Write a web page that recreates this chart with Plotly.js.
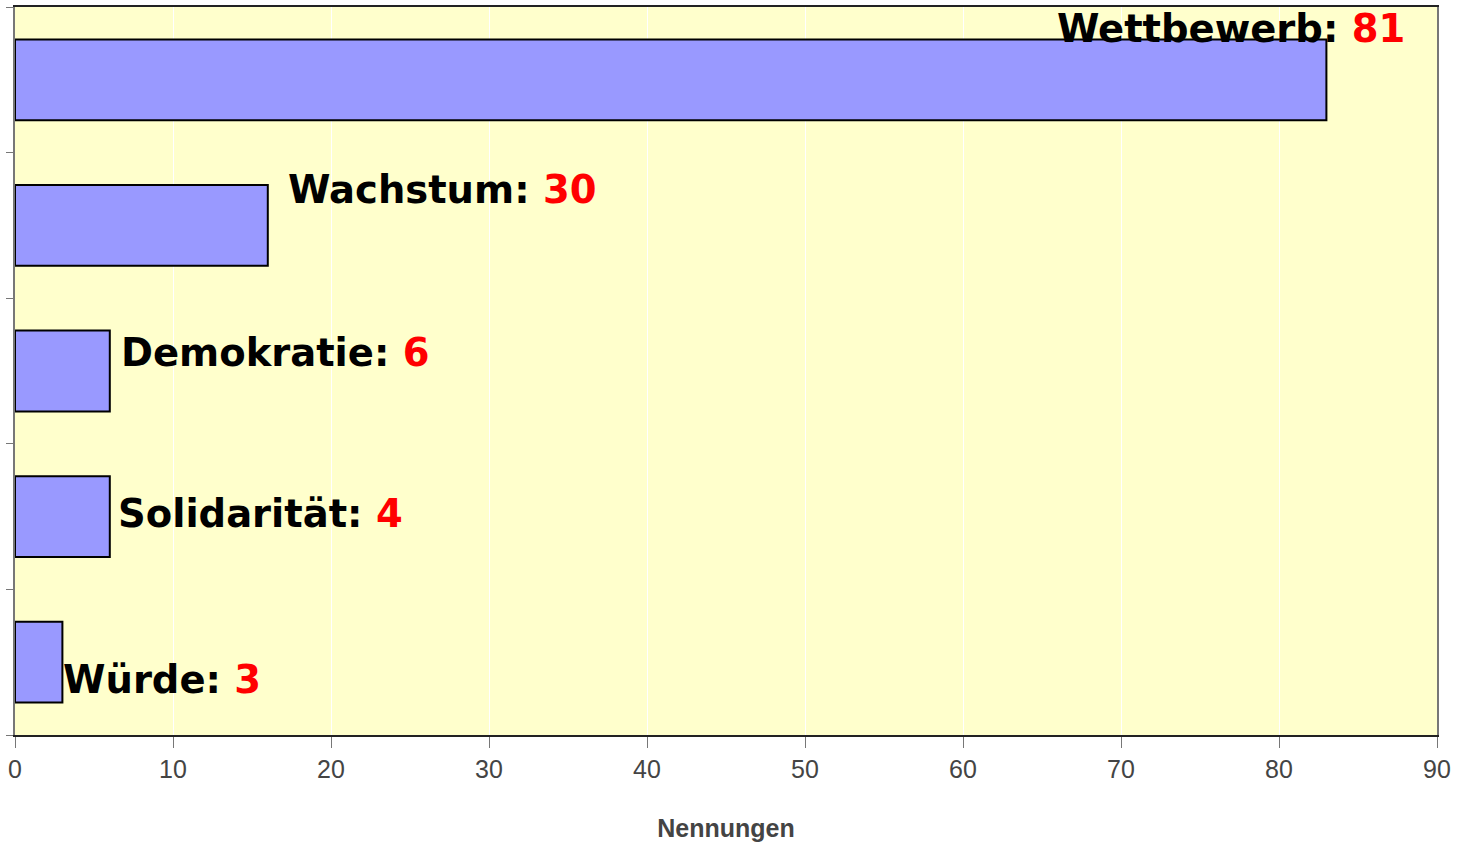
<!DOCTYPE html>
<html>
<head>
<meta charset="utf-8">
<script src="https://cdn.plot.ly/plotly-3.0.1.min.js"></script>
<style>html,body{margin:0;padding:0;background:#fff;}#chart{width:1458px;height:843px;}</style>
</head>
<body>
<div id="chart"></div>
<script>
// Data (bottom to top)
const categories = ['Würde', 'Solidarität', 'Demokratie', 'Wachstum', 'Wettbewerb'];
const barValues = [3, 6, 6, 16, 83];
const labelValues = [3, 4, 6, 30, 81];
const xTickValues = [0, 10, 20, 30, 40, 50, 60, 70, 80, 90];

// Label placement (layout only)
const labelX = [2.92, 6.4, 6.58, 17.15, 65.8];
const labelYOffset = [-0.122, 0.018, 0.13, 0.25, 0.349];

const trace = {
  type: 'bar',
  orientation: 'h',
  y: categories,
  x: barValues,
  width: 0.555,
  marker: { color: '#9999ff', line: { color: '#000000', width: 2 } },
  hoverinfo: 'x+y'
};

const annotations = categories.map((c, i) => ({
  xref: 'x', yref: 'y',
  x: labelX[i],
  y: i + labelYOffset[i],
  xanchor: 'left', yanchor: 'middle',
  showarrow: false,
  text: '<b>' + c + ': <span style="color:#ff0000">' + labelValues[i] + '</span></b>',
  font: { family: 'DejaVu Sans', size: 38.5, color: '#000000' }
}));

const layout = {
  width: 1458, height: 843,
  margin: { l: 15, r: 21, t: 7, b: 108 },
  paper_bgcolor: '#ffffff',
  plot_bgcolor: '#ffffcc',
  showlegend: false,
  xaxis: {
    range: [0, 90],
    tickvals: xTickValues,
    ticks: 'outside', ticklen: 11, tickwidth: 1, tickcolor: '#777777',
    showgrid: true, gridcolor: '#ffffff', gridwidth: 1,
    zeroline: false,
    showline: true, linecolor: '#222222', linewidth: 2, mirror: true,
    tickfont: { family: 'Liberation Sans, Arial, sans-serif', size: 25, color: '#444444' },
    title: { text: '<b>Nennungen</b>', font: { family: 'Liberation Sans, Arial, sans-serif', size: 25, color: '#444444' }, standoff: 37 },
    fixedrange: true
  },
  yaxis: {
    type: 'category',
    categoryorder: 'array', categoryarray: categories,
    range: [-0.5, 4.5],
    tickson: 'boundaries',
    ticks: 'outside', ticklen: 7, tickwidth: 1, tickcolor: '#777777',
    showticklabels: false,
    showgrid: false, zeroline: false,
    showline: true, linecolor: '#777777', linewidth: 2, mirror: true,
    fixedrange: true
  },
  annotations: annotations
};

Plotly.newPlot('chart', [trace], layout, { displayModeBar: false, staticPlot: true });
</script>
</body>
</html>
